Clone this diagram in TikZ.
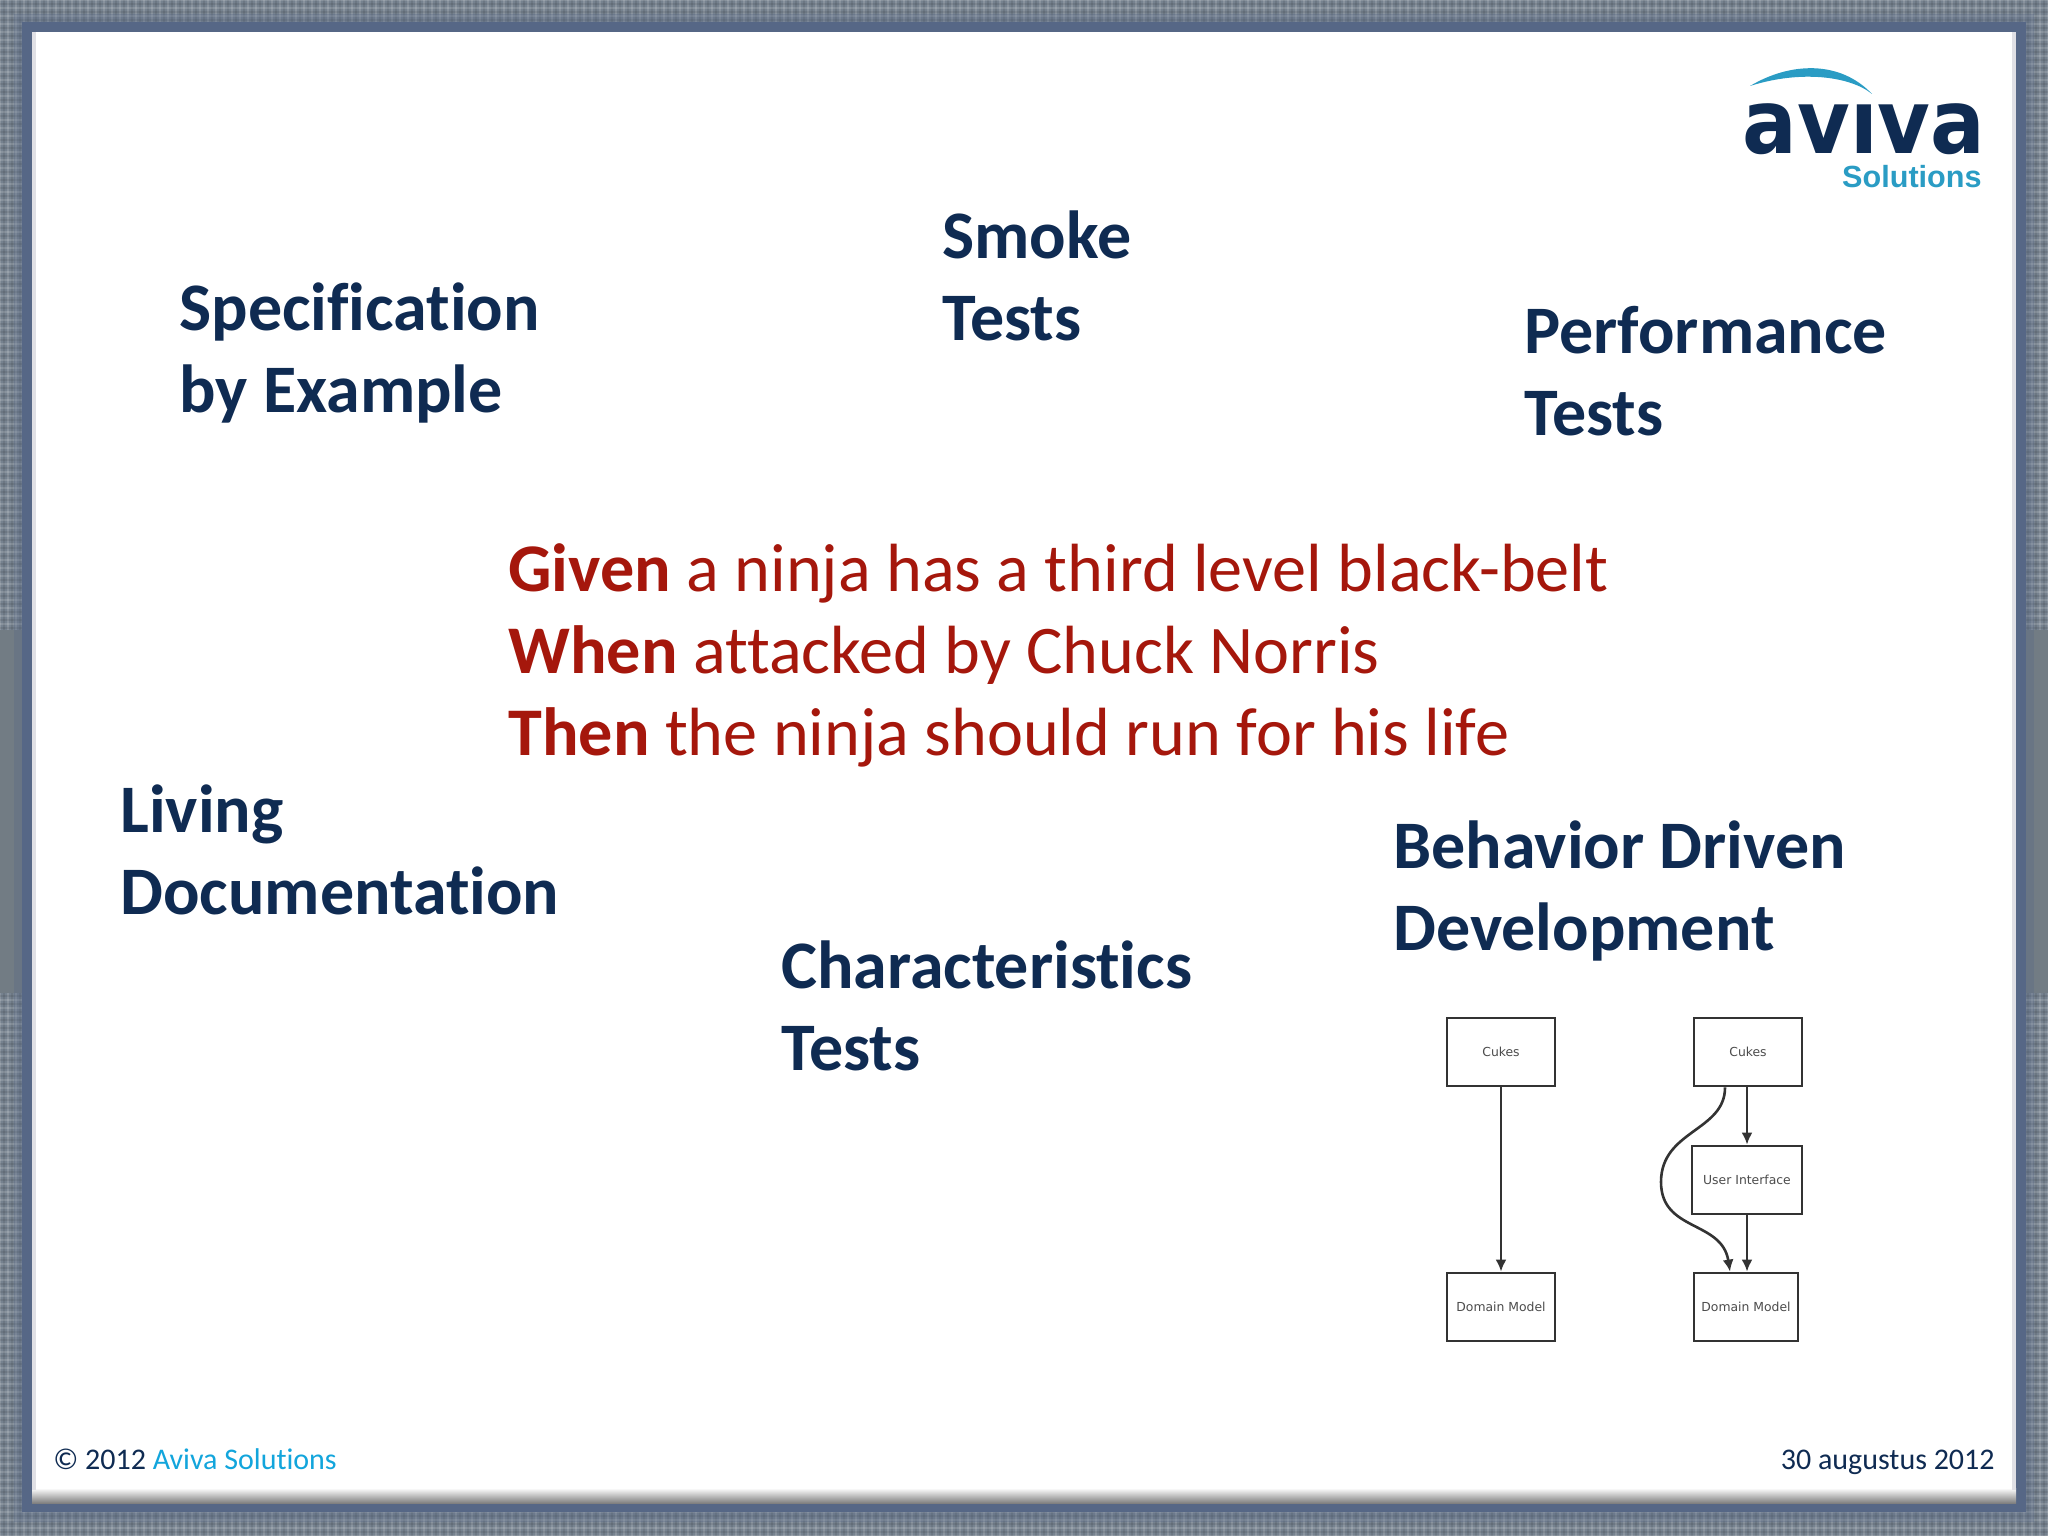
\documentclass[tikz,border=0pt]{standalone}
\usepackage{xcolor}
\usepackage{fontspec}
\setmainfont{Carlito}[Ligatures = NoCommon]
\newfontfamily\boxfont{DejaVu Sans}
\newfontfamily\logofont{DejaVu Sans}
\newfontfamily\logosubfont{Liberation Sans}
\usepackage{tikz}
\usetikzlibrary{arrows.meta}
\definecolor{navy}{HTML}{0F2B52}
\definecolor{ninjared}{HTML}{A5170C}
\definecolor{skyblue}{HTML}{12A5DC}
\definecolor{logoblue}{HTML}{2A9CC4}
\definecolor{slide}{HTML}{76828F}
\definecolor{smoothslide}{HTML}{727C84}
\definecolor{edgeblue}{HTML}{566786}
\tikzset{
heading/.style = { anchor = north west, inner sep = 0pt, text = navy, align = left, font = \fontsize{34}{41}\selectfont\bfseries },
scenario/.style = { anchor = north west, inner sep = 0pt, text = ninjared, align = left, font = \fontsize{34.1}{41}\selectfont },
footer/.style = { inner sep = 0pt, text = navy, font = \fontsize{15}{18}\selectfont },
flow box/.style = { rectangle, draw = black!80, line width = 1.4pt, fill = white, inner sep = 0pt, minimum height = 34pt, text = black!70, font = \boxfont\fontsize{6.2}{8}\selectfont },
flow arrow/.style = { draw = black!80, line width = 1.3pt, -{Latex[length = 6pt, width = 5.5pt]} },
}
\begin{document}
\begin{tikzpicture}[x = 0.5pt, y = -0.5pt]
    \useasboundingbox (0, 0) rectangle (2048, 1536);
    % backdrop
    \fill[slide] (0, 0) rectangle (2048, 1536);
    \foreach \i in {0, 8, ..., 2048} {
        \draw[white, opacity = 0.14, line width = 1pt] (\i, 0) -- (\i, 1536);
        \draw[black, opacity = 0.08, line width = 1pt] (\i + 4, 0) -- (\i + 4, 1536);
    }
    \foreach \j in {0, 8, ..., 1536} {
        \draw[white, opacity = 0.14, line width = 1pt] (0, \j) -- (2048, \j);
        \draw[black, opacity = 0.08, line width = 1pt] (0, \j + 4) -- (2048, \j + 4);
    }
    % smooth part of the side strips
    \fill[smoothslide] (0, 630) rectangle (22, 993);
    \fill[smoothslide] (2026, 630) rectangle (2048, 993);
    % sheet
    \fill[edgeblue, opacity = 0.3] (14, 14) rectangle (2034, 1522);
    \fill[edgeblue] (22, 22) rectangle (2026, 1512);
    \fill[black!45] (32, 32) rectangle (2016, 1503);
    \shade[top color = white, bottom color = black!50] (32, 1488) rectangle (2016, 1503);
    \fill[white] (32, 32) rectangle (2016, 1488);
    \fill[blue!15!black!12] (32, 32) rectangle (36, 1490);
    \fill[blue!15!black!12] (2012, 32) rectangle (2016, 1490);

    % logo
    \begin{scope}
        \clip (1700, 104) rectangle (2000, 160);
        \node[anchor = base, inner sep = 0pt, text = navy, xscale = 0.91, font = \logofont\fontsize{44.5}{46}\selectfont\bfseries] (logoname) at (1864, 154) {aviva};
    \end{scope}
    \node[anchor = base east, inner sep = 0pt, text = logoblue, font = \logosubfont\fontsize{15.3}{18}\selectfont\bfseries] (logosub) at (1982, 187) {Solutions};
    \fill[logoblue] (1750, 86) .. controls (1790, 62) and (1840, 60) .. (1872, 94) .. controls (1850, 76) and (1800, 70) .. cycle;

    % headings
    \node[heading] (specification) at (179, 282) {Specification\\by Example};
    \node[heading] (smoke) at (942, 210) {Smoke\\Tests};
    \node[heading] (performance) at (1524, 306) {Performance\\Tests};
    \node[heading] (living) at (120, 784) {Living\\Documentation};
    \node[heading] (characteristics) at (781, 940) {Characteristics\\Tests};
    \node[heading] (behavior) at (1393, 820) {Behavior Driven\\Development};
    \node[scenario] (scenario) at (508, 543) {\textbf{Given} a ninja has a third level black-belt\\\textbf{When} attacked by Chuck Norris\\\textbf{Then} the ninja should run for his life};

    % left flow
    \node[flow box, minimum width = 54pt] (cukes one) at (1501, 1052) {Cukes};
    \node[flow box, minimum width = 54pt] (domain one) at (1501, 1307) {Domain Model};
    \draw[flow arrow] (cukes one) -- (domain one);

    % right flow
    \node[flow box, minimum width = 54pt] (cukes two) at (1748, 1052) {Cukes};
    \node[flow box, minimum width = 55pt] (interface) at (1747, 1180) {User Interface};
    \node[flow box, minimum width = 52pt] (domain two) at (1746, 1307) {Domain Model};
    \draw[flow arrow] (cukes two.south -| interface) -- (interface);
    \draw[flow arrow] (interface) -- (interface |- domain two.north);
    \draw[flow arrow] ([xshift = -11.5pt]cukes two.south) .. controls +(0, 44) and (1661, 1130) .. (1661, 1182) .. controls (1661, 1232) and (1722, 1220) .. ([xshift = -8pt]domain two.north);

    % footer
    \node[footer, anchor = base west] (copyright) at (53, 1469) {© 2012 \textcolor{skyblue}{Aviva Solutions}};
    \node[footer, anchor = base east] (date) at (1995, 1469) {30 augustus 2012};
\end{tikzpicture}
\end{document}
